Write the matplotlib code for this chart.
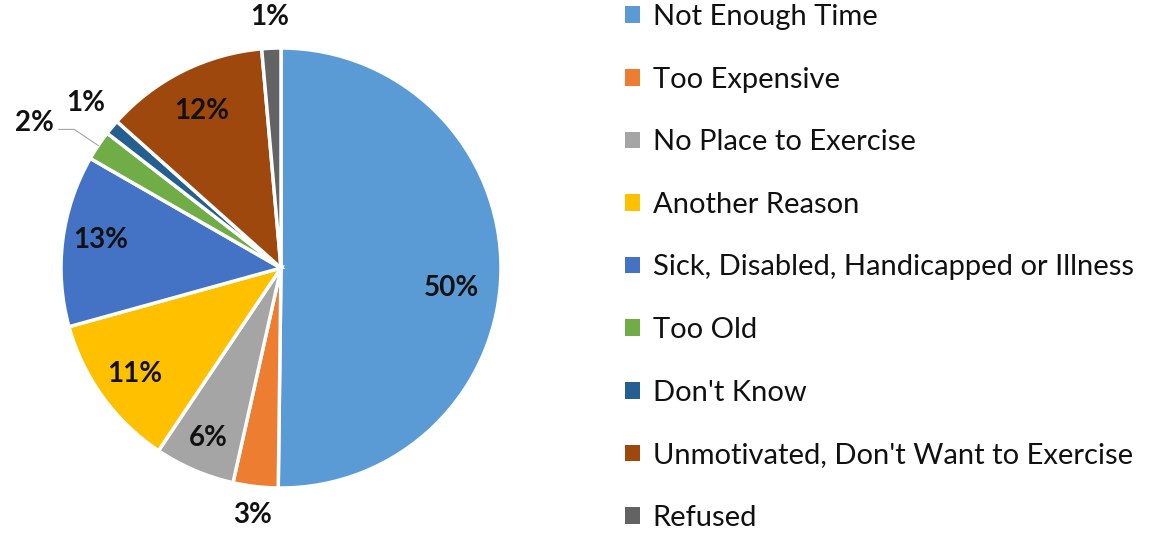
import matplotlib
matplotlib.use("Agg")
import matplotlib.pyplot as plt
import numpy as np

categories = ["Not Enough Time", "Too Expensive", "No Place to Exercise", "Another Reason",
              "Sick, Disabled, Handicapped or Illness", "Too Old", "Don't Know",
              "Unmotivated, Don't Want to Exercise", "Refused"]
values = [50.2, 3.3, 5.9, 11.3, 12.6, 2.2, 1.1, 12.0, 1.4]
colors = ["#5B9BD5", "#ED7D31", "#A5A5A5", "#FFC000", "#4472C4", "#70AD47", "#255E91", "#9E480E", "#636363"]

plt.rcParams['font.family'] = ['Lato', 'DejaVu Sans']

W, H = 1150, 535
fig = plt.figure(figsize=(W / 100, H / 100), dpi=100)
cx, cy, r = 281, 268, 220
ax = fig.add_axes([(cx - r) / W, (H - cy - r) / H, 2 * r / W, 2 * r / H])

wedges, _ = ax.pie(values, colors=colors, startangle=90, counterclock=False, radius=1,
                   wedgeprops=dict(edgecolor='white', linewidth=2.5))
ax.set_xlim(-1, 1)
ax.set_ylim(-1, 1)
ax.set_aspect('equal')
ax.axis('off')

# label radial distance (fraction of radius) and angular offset (deg)
label_r = [0.78, 1.13, 0.84, 0.82, 0.83, 1.22, 1.14, 0.80, 1.14]
label_da = [-6.3, 0, 0, 0, -1.5, 0, 0, 0, 0]
for i, (w, v) in enumerate(zip(wedges, values)):
    ang = np.deg2rad((w.theta1 + w.theta2) / 2 + label_da[i])
    rr = label_r[i]
    x, y = rr * np.cos(ang), rr * np.sin(ang)
    txt = f"{round(v):d}%"
    if i == 5:
        # leader-lined label for "Too Old"
        x, y = -1.12, 0.66
        a0 = np.deg2rad((w.theta1 + w.theta2) / 2)
        ex, ey = np.cos(a0), np.sin(a0)
        ax.plot([x + 0.11, x + 0.18, ex], [y - 0.03, y - 0.03, ey], color='#A6A6A6', lw=0.8, clip_on=False)
    if i == 6:
        x, y = -0.89, 0.75
    ax.text(x, y, txt, ha='center', va='center', fontsize=20, fontweight='bold', color='#111111')

leg = fig.legend(wedges, categories, loc='upper left', bbox_to_anchor=(625 / W, 1 - 4 / H),
                 frameon=False, fontsize=21, handlelength=0.5, handleheight=0.5,
                 handletextpad=0.45, labelspacing=1.255, borderaxespad=0, borderpad=0)
for t in leg.get_texts():
    t.set_color('#111111')
for h in leg.legend_handles:
    h.set_edgecolor('none')

fig.savefig("out.png", dpi=100)
